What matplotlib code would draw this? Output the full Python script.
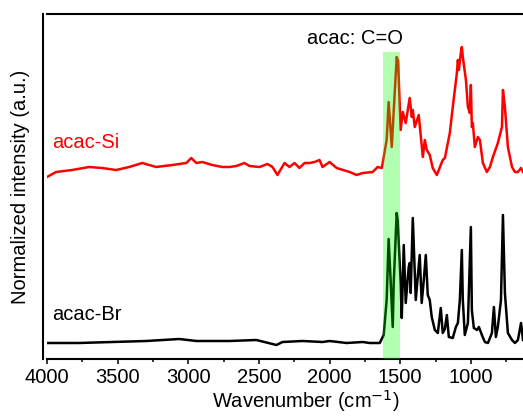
import numpy as np
import matplotlib
matplotlib.use("Agg")
import matplotlib.pyplot as plt
from matplotlib.ticker import MultipleLocator

plt.rcParams['font.family'] = ['Liberation Sans', 'DejaVu Sans']

# FTIR spectra, wavenumber (cm-1) and stacked intensity (a.u.)
wn_si = [4000, 3936, 3823, 3702, 3610, 3511, 3418, 3326, 3227, 3113, 3014, 2979,
         2943, 2901, 2830, 2759, 2709, 2660, 2603, 2567, 2496, 2440, 2404, 2369,
         2319, 2284, 2248, 2213, 2177, 2142, 2106, 2071, 2050, 2000, 1950, 1858,
         1809, 1766, 1695, 1660, 1631, 1624, 1596, 1582, 1560, 1525, 1515, 1497,
         1482, 1461, 1433, 1418, 1411, 1397, 1369, 1340, 1326, 1312, 1291, 1270,
         1241, 1199, 1184, 1149, 1128, 1099, 1092, 1085, 1071, 1064, 1057, 1035,
         1021, 1007, 1000, 993, 986, 972, 950, 936, 915, 887, 865, 844, 809, 780,
         773, 759, 738, 709, 688, 667, 645, 631]
int_si = [182, 187, 189, 192, 191, 189, 192, 196, 192, 194, 196, 201,
          196, 197, 194, 192, 192, 193, 196, 193, 192, 195, 192, 184,
          196, 192, 196, 191, 196, 196, 197, 199, 192, 197, 191, 187,
          184, 186, 187, 192, 191, 196, 219, 257, 212, 302, 298, 229,
          247, 236, 261, 242, 249, 232, 244, 202, 219, 209, 204, 191,
          184, 199, 201, 226, 252, 286, 299, 289, 306, 312, 302, 279,
          252, 246, 274, 232, 236, 212, 222, 219, 196, 187, 192, 202, 216, 232,
          269, 252, 212, 192, 187, 187, 191, 187]

wn_br = [4000, 3773, 3539, 3298, 3064, 2943, 2709, 2518, 2376, 2333, 2191, 2050,
         2000, 1879, 1766, 1716, 1645, 1617, 1596, 1582, 1567, 1553, 1546, 1525,
         1518, 1497, 1489, 1475, 1461, 1440, 1433, 1426, 1411, 1390, 1376, 1362,
         1348, 1333, 1319, 1305, 1291, 1277, 1255, 1234, 1213, 1199, 1184, 1170,
         1156, 1128, 1106, 1092, 1078, 1064, 1057, 1043, 1021, 1000, 993, 979,
         957, 943, 922, 901, 879, 851, 837, 823, 809, 787, 773, 759, 738, 709,
         688, 667, 645, 631]
int_br = [16, 16, 17, 18, 20, 18, 18, 19, 14, 17, 18, 17,
          18, 16, 17, 16, 16, 24, 59, 120, 76, 32, 76, 146,
          139, 76, 41, 114, 56, 92, 96, 66, 141, 59, 82, 104,
          56, 79, 104, 64, 59, 42, 29, 26, 51, 26, 30, 44,
          22, 21, 32, 36, 59, 109, 59, 24, 36, 132, 49, 31,
          29, 32, 24, 17, 16, 26, 52, 22, 32, 59, 144, 66, 26, 19,
          16, 19, 36, 19]

band = (1622, 1502)
fs = 14.5

fig = plt.figure(figsize=(5.23, 4.17), dpi=100)
ax = fig.add_axes([47 / 523, 58 / 417, 476 / 523, 345 / 417])

ax.plot(wn_si, int_si, color='red', lw=1.8, zorder=2)
ax.plot(wn_br, int_br, color='black', lw=1.8, zorder=2)
# highlighted carbonyl region, drawn over the traces
ax.axvspan(band[0], band[1], ymin=0, ymax=307 / 345, color=(0, 1, 0),
           alpha=0.3, lw=0, zorder=3)

ax.set_xlim(4000, 631)
ax.set_ylim(0, 345)

ax.text(1820, 321, 'acac: C=O', fontsize=fs, ha='center', va='center')
ax.text(3965, 216, 'acac-Si', fontsize=fs, color='red', va='center')
ax.text(3965, 44, 'acac-Br', fontsize=fs, color='black', va='center')

ax.spines['right'].set_visible(False)
ax.spines['left'].set_position(('outward', 3))
for s in ['left', 'top', 'bottom']:
    ax.spines[s].set_linewidth(1.5)

ax.xaxis.set_major_locator(MultipleLocator(500))
ax.xaxis.set_minor_locator(MultipleLocator(250))
ax.tick_params(axis='x', which='major', direction='out', length=3.6, width=1.1,
               labelsize=fs, pad=3)
ax.tick_params(axis='x', which='minor', direction='out', length=2.2, width=1.1)
ax.set_yticks([])
ax.set_xlabel('Wavenumber (cm$^{-1}$)', fontsize=fs, labelpad=4)
ax.xaxis.set_label_coords(0.544, -0.085)
ax.set_ylabel('Normalized intensity (a.u.)', fontsize=fs, labelpad=9)

fig.savefig('out.png', dpi=100)
